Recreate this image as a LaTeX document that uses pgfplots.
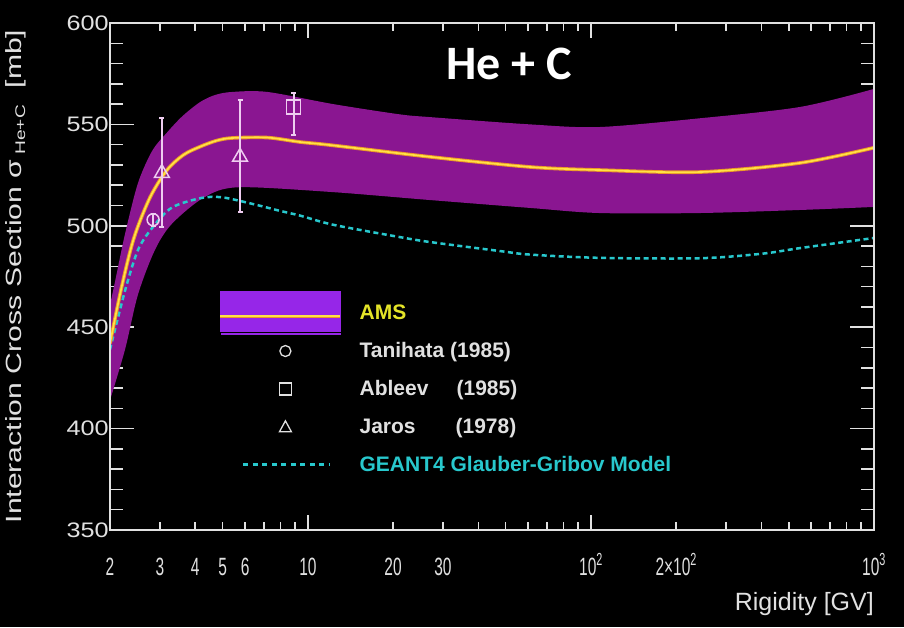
\documentclass[border=0pt]{standalone}
\usepackage{graphicx}
\usepackage{xcolor}
\usepackage{pgfplots}
\pgfplotsset{compat=1.18}
\usepgfplotslibrary{fillbetween}
\usepackage{fontspec}
\setmainfont{Liberation Sans}
\newfontfamily\carlito{Carlito}
\definecolor{bandc}{RGB}{138,22,145}
\definecolor{amsleg}{RGB}{150,38,232}
\definecolor{amsyel}{RGB}{255,225,70}
\definecolor{amsor}{RGB}{235,150,40}
\definecolor{amstxt}{RGB}{228,228,40}
\definecolor{geant}{RGB}{40,200,205}
\definecolor{axc}{RGB}{225,225,225}
\definecolor{mk}{RGB}{238,205,240}
\pagecolor{black}
\begin{document}
\begin{tikzpicture}
\path (0,0) rectangle (904pt,627pt);
% main axis: data, y ticks, legend
\begin{axis}[
  at={(110pt,97pt)}, anchor=south west,
  scale only axis, width=764pt, height=507pt,
  xmode=log, xmin=2, xmax=1000, ymin=350, ymax=600,
  axis background/.style={fill=black},
  axis line style={axc, line width=1.8pt},
  every tick/.style={axc, line width=1.5pt},
  tick label style={text=axc},
  tick align=inside,
  xtick=\empty,
  ytick={350,400,450,500,550,600},
  yticklabels={350,400,450,500,550,600},
  minor ytick={360,370,380,390,410,420,430,440,460,470,480,490,510,520,530,540,560,570,580,590},
  major tick length=24pt, minor tick length=13pt,
  yticklabel style={font=\fontsize{21}{21}\selectfont, xscale=1.2, anchor=east, inner xsep=1pt},
  ylabel={\scalebox{1.37}[1]{Interaction Cross Section σ\,\raisebox{-0.3ex}{\fontsize{14}{14}\selectfont He+C}\ \ [mb]}},
  ylabel style={at={(axis description cs:-0.123,0.5)}, anchor=center, text=axc, font=\fontsize{22}{22}\selectfont},
  legend style={at={(axis description cs:0.144,0.4655)}, anchor=north west, draw=none, fill=none,
    inner sep=0pt, nodes={inner sep=0pt}, row sep=0pt, column sep=0pt,
    font=\bfseries\fontsize{21}{25}\selectfont, cells={anchor=west}},
]
\addplot[name path=up, draw=none, smooth, forget plot] coordinates {
(2,461) (2.08,472) (2.26,496) (2.51,521) (2.82,537) (3.18,546) (3.6,554) (4.16,561) (4.7,564.5) (5.4,566) (7.2,566) (12.3,560) (21,555) (27,553.6) (61,550) (107,548.7) (242,553) (548,558.6) (1000,567.5)};
\addplot[name path=lo, draw=none, smooth, forget plot] coordinates {
(2,414) (2.26,439) (2.51,466) (2.88,488) (3.31,501) (4.3,514) (5.67,519) (12,516.7) (27,512.7) (61,508.8) (107,506.3) (242,506.3) (548,507.8) (1000,509.3)};
\addplot[fill=bandc, draw=none, forget plot] fill between[of=up and lo];
\addplot[geant, line width=2.5pt, dash pattern=on 5pt off 3.5pt, smooth, forget plot] coordinates {
(2,439) (2.26,468) (2.51,488) (2.82,499) (3.31,509) (4.2,513.7) (5.0,514) (6.5,510.5) (7.9,507.5) (9.4,505) (12.3,500.5) (21,494.5) (27,492) (48,487.5) (61,485.8) (107,484.2) (242,484) (400,486.2) (548,489) (1000,494)};
\addplot[amsor, line width=3.6pt, smooth, forget plot] coordinates {
(2,442) (2.2,470) (2.43,494) (2.77,514) (3.18,527.5) (3.64,535) (4.16,539) (4.76,542) (5.4,543.3) (7.2,543.5) (9.4,541.3) (12,539.8) (27,534) (61,529) (107,527.5) (242,526.5) (548,531) (1000,538.5)};
\addplot[amsyel, line width=1.7pt, smooth, forget plot] coordinates {
(2,442) (2.2,470) (2.43,494) (2.77,514) (3.18,527.5) (3.64,535) (4.16,539) (4.76,542) (5.4,543.3) (7.2,543.5) (9.4,541.3) (12,539.8) (27,534) (61,529) (107,527.5) (242,526.5) (548,531) (1000,538.5)};
% data points
\addplot[mk, only marks, mark=o, mark size=6pt, mark options={line width=1.5pt}, forget plot,
  error bars/.cd, y dir=both, y explicit, error mark=-, error mark options={mk, mark size=2.5pt, line width=2pt, rotate=90},
  error bar style={mk, line width=2pt}] coordinates {(2.84,503) +- (0,3)};
\addplot[mk, only marks, mark=triangle, mark size=8.5pt, mark options={line width=1.5pt}, forget plot,
  error bars/.cd, y dir=both, y explicit, error mark=-, error mark options={mk, mark size=2.5pt, line width=2pt, rotate=90},
  error bar style={mk, line width=2pt}] coordinates {(3.05,526) += (0,27) -= (0,26.5) (5.76,534) += (0,28) -= (0,27)};
\addplot[mk, only marks, mark=square, mark size=7pt, mark options={line width=1.5pt}, forget plot,
  error bars/.cd, y dir=both, y explicit, error mark=-, error mark options={mk, mark size=2.5pt, line width=2pt, rotate=90},
  error bar style={mk, line width=2pt}] coordinates {(8.9,558.6) += (0,7) -= (0,13.6)};
% legend
\addlegendimage{legend image code/.code={
  \path (0pt,-18.75pt) rectangle (139pt,18.75pt);
  \fill[amsleg, overlay] (0pt,-21.5pt) rectangle (120pt,21.5pt);
  \draw[amsor, line width=3pt, overlay] (0pt,-3pt) -- (120pt,-3pt);
  \draw[amsyel, line width=1.4pt, overlay] (0pt,-3pt) -- (120pt,-3pt);}}
\addlegendentry{\textcolor{amstxt}{AMS}}
\addlegendimage{legend image code/.code={
  \path (0pt,-18.75pt) rectangle (139pt,18.75pt);
  \draw[axc, line width=1.3pt] (65pt,0pt) circle (5.5pt);}}
\addlegendentry{\textcolor{axc}{Tanihata (1985)}}
\addlegendimage{legend image code/.code={
  \path (0pt,-18.75pt) rectangle (139pt,18.75pt);
  \draw[axc, line width=1.3pt] (59pt,-6pt) rectangle (71pt,6pt);}}
\addlegendentry{\textcolor{axc}{\makebox[97pt][l]{Ableev}(1985)}}
\addlegendimage{legend image code/.code={
  \path (0pt,-18.75pt) rectangle (139pt,18.75pt);
  \draw[axc, line width=1.3pt] (59pt,-5pt) -- (71pt,-5pt) -- (65pt,6pt) -- cycle;}}
\addlegendentry{\textcolor{axc}{\makebox[96pt][l]{Jaros}(1978)}}
\addlegendimage{legend image code/.code={
  \path (0pt,-18.75pt) rectangle (139pt,18.75pt);
  \draw[geant, line width=2.5pt, dash pattern=on 5pt off 4.5pt] (23pt,0pt) -- (110pt,0pt);}}
\addlegendentry{\textcolor{geant}{GEANT4 Glauber-Gribov Model}}
\node[anchor=base, text=white, font=\carlito\bfseries\fontsize{48}{48}\selectfont] at (rel axis cs:0.522,0.8876) {He + C};
\end{axis}
% second axis: x ticks
\begin{axis}[
  at={(110pt,97pt)}, anchor=south west,
  scale only axis, width=764pt, height=507pt,
  xmode=log, xmin=2, xmax=1000, ymin=350, ymax=600,
  axis line style={axc, line width=1.8pt},
  every tick/.style={axc, line width=1.5pt},
  tick label style={text=axc},
  tick align=inside,
  ytick=\empty,
  xtick={10,100,1000},
  xticklabels={10,10\textsuperscript{2},10\textsuperscript{3}},
  minor xtick={3,4,5,6,7,8,9,20,30,40,50,60,70,80,90,200,300,400,500,600,700,800,900},
  extra x ticks={2,3,4,5,6,20,30,200},
  extra x tick labels={2,3,4,5,6,20,30,2×10\textsuperscript{2}},
  extra x tick style={tick style={draw=none}},
  major tick length=15pt, minor tick length=8pt,
  xticklabel style={font=\fontsize{25}{25}\selectfont, xscale=0.62, anchor=base, yshift=-45pt},
  xlabel={Rigidity [GV]},
  xlabel style={at={(axis description cs:1,-0.158)}, anchor=base east, inner sep=0pt, text=axc, font=\fontsize{25}{25}\selectfont},
]
\addplot[draw=none, forget plot] coordinates {(2,350) (1000,350)};
\end{axis}
\end{tikzpicture}
\end{document}
